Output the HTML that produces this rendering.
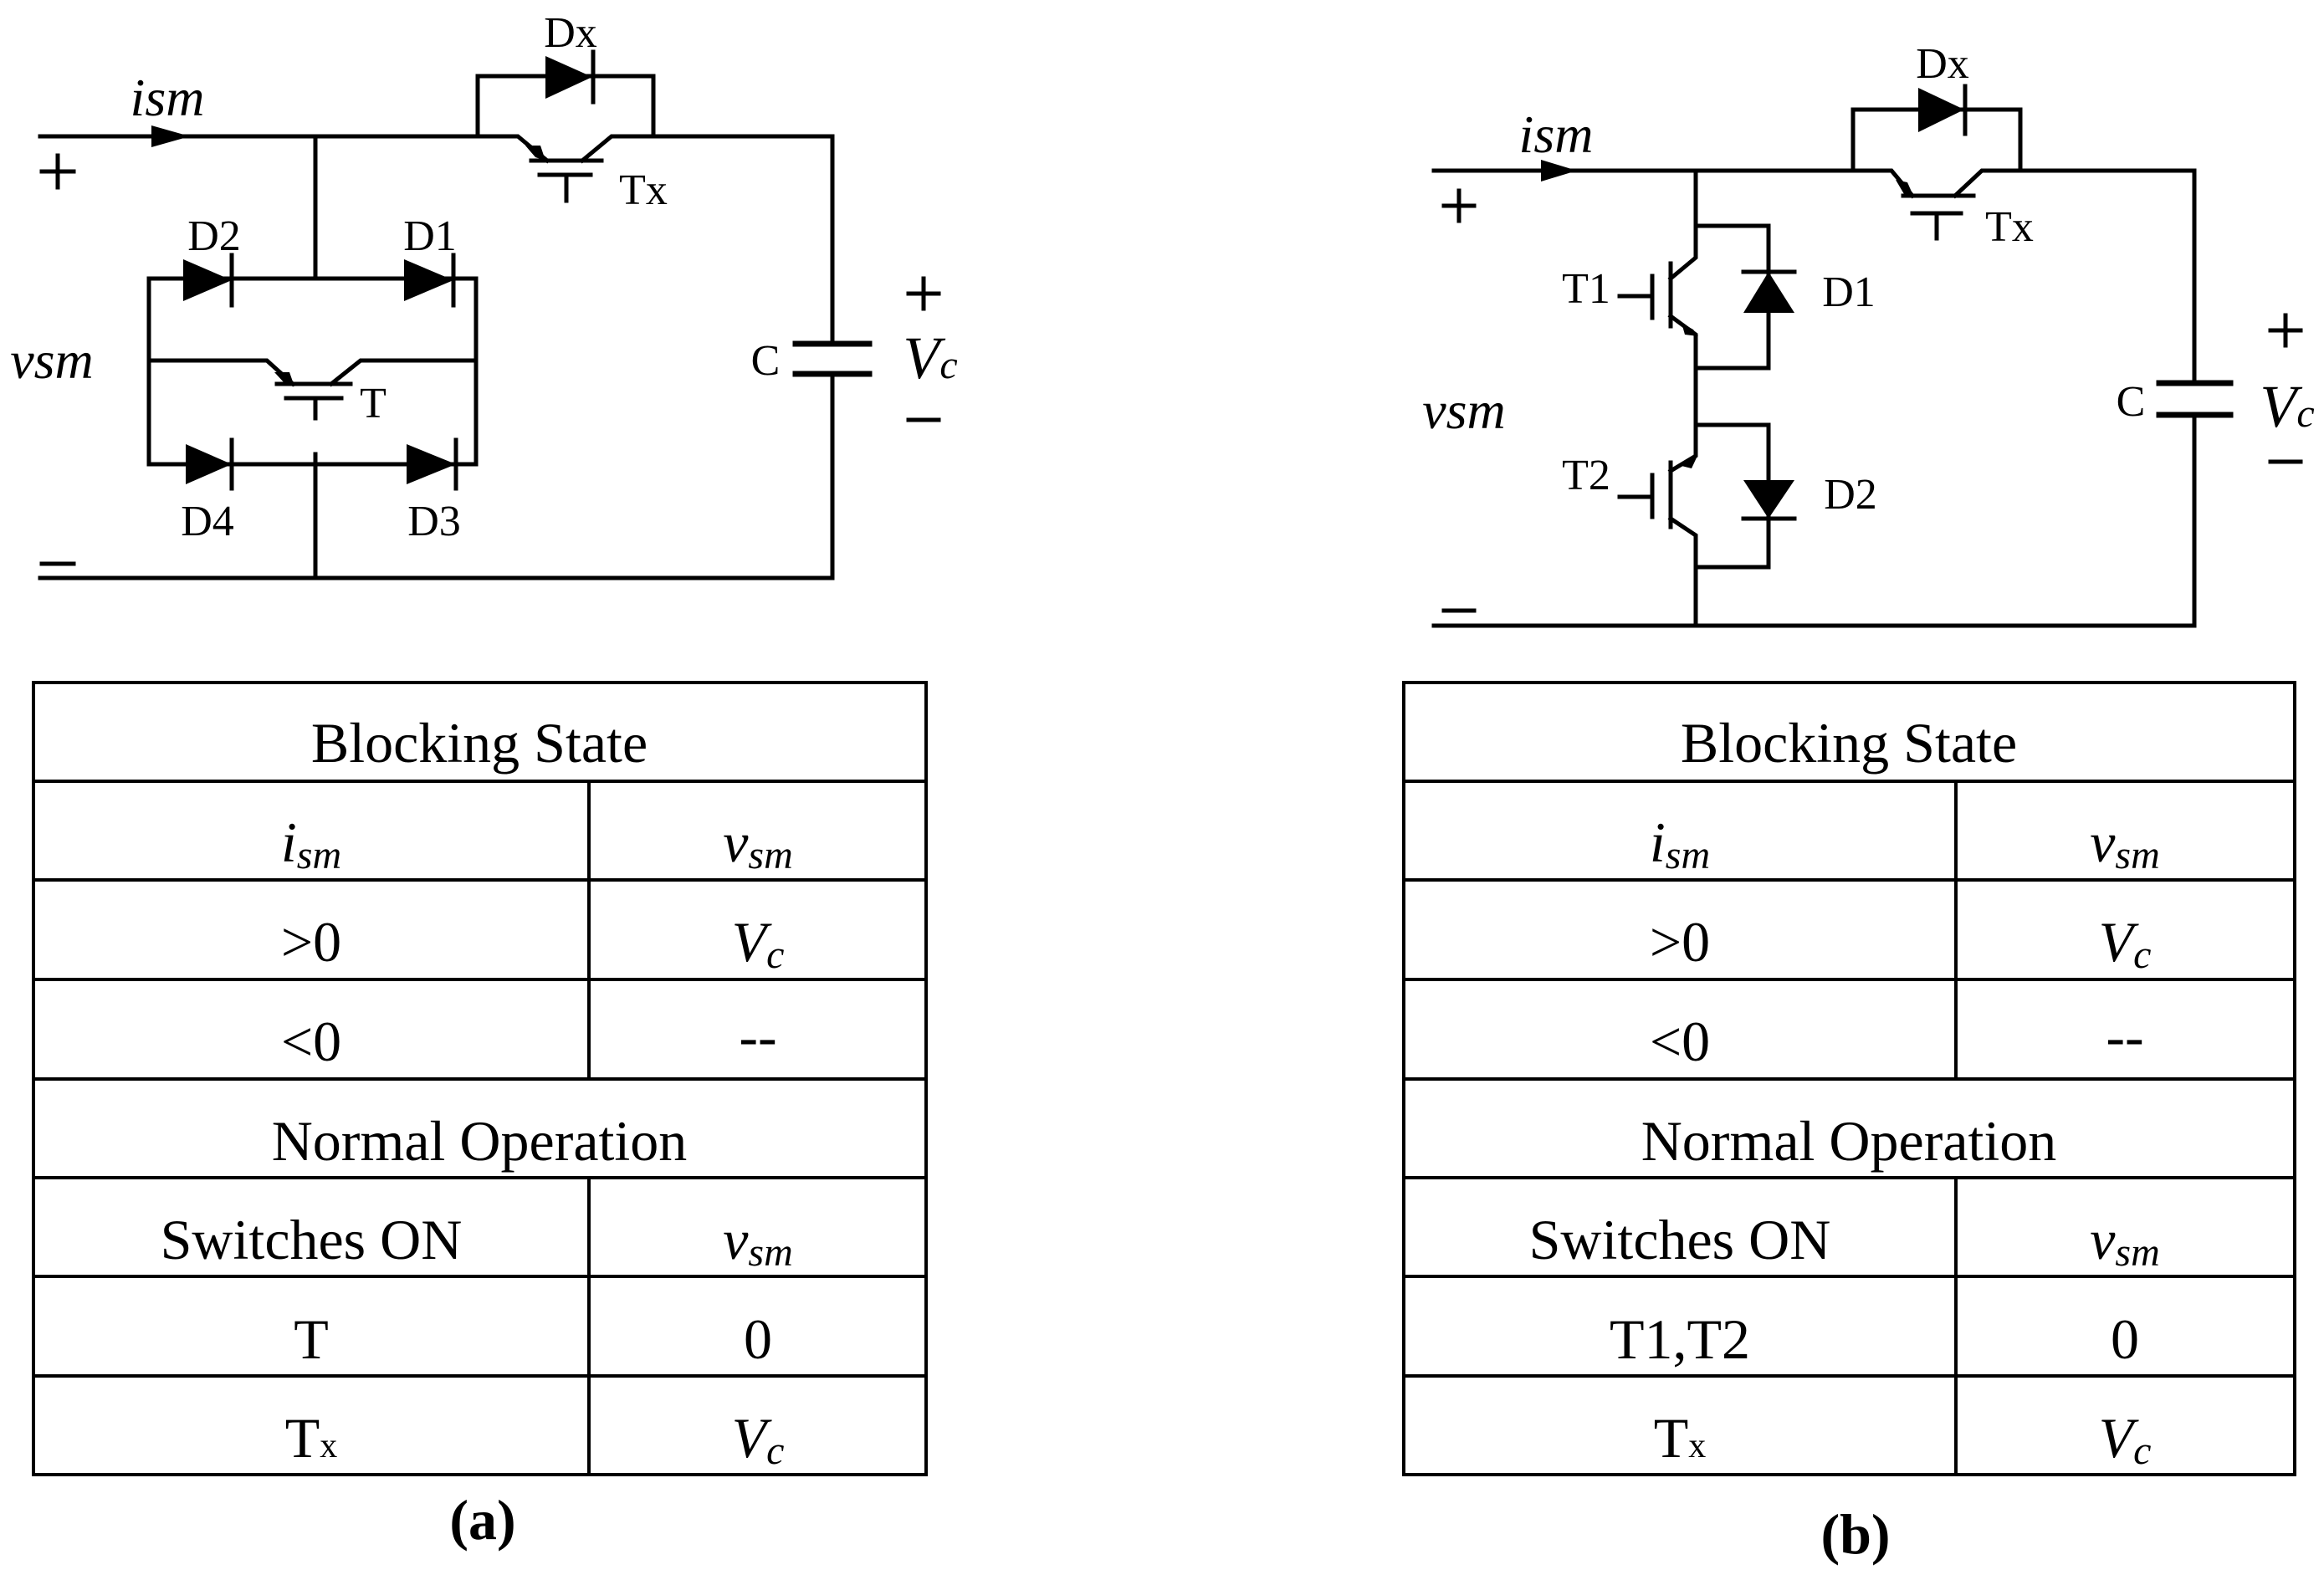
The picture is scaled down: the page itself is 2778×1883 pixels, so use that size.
<!DOCTYPE html>
<html><head><meta charset="utf-8"><style>
html,body{margin:0;padding:0;background:#fff;}
svg{display:block;}
.l{font-family:"Liberation Serif",serif;font-size:52px;fill:#000;}
.it{font-family:"Liberation Serif",serif;font-style:italic;fill:#000;}
.t{font-family:"Liberation Serif",serif;font-size:68px;fill:#000;}
</style></head><body>
<svg width="2778" height="1883" viewBox="0 0 2778 1883" xmlns="http://www.w3.org/2000/svg">
<g stroke="#000" stroke-width="5" fill="none" stroke-linecap="square">
<path d="M48 163 H571 M781 163 H995 V411 M995 447 V691 H48"/>
<path d="M377 163 V333"/>
<path d="M571 163 V91 H781 V163"/>
<path d="M571 163 H619 L654 192 M635 192 H719 M696 192 L731 163 H781"/>
<path d="M645 209 H706 M677 209 V240"/>
<path d="M951 411 H1039 M951 447 H1039" stroke-width="7"/>
<rect x="178" y="333" width="391" height="222"/>
<path d="M178 431 H319 L350 459 M331 459 H419 M396 459 L431 431 H569"/>
<path d="M342 476 H408 M377 476 V500"/>
<path d="M377 543 V691"/>
<path d="M709 62 V122 M277 305 V365 M542 305 V365 M277 526 V584 M545 526 V584"/>
<path d="M50 205 H88 M69 186 V224 M50 674 H88"/>
<path d="M1086 351 H1122 M1104 333 V369 M1086 502 H1122"/>
<path d="M1726 246 H1762 M1744 228 V264 M1726 730 H1762"/>
<path d="M2714 395 H2750 M2732 377 V413 M2714 552 H2750"/>
<path d="M1714 204 H2215 M2415 204 H2623 V458 M2623 496 V748 H1714"/>
<path d="M2215 204 V131 H2415 V204"/>
<path d="M2215 204 H2261 L2286 234 M2275 234 H2359 M2337 234 L2369 204 H2415"/>
<path d="M2286 255 H2344 M2315 255 V285"/>
<path d="M2581 458 H2666 M2581 496 H2666" stroke-width="7"/>
<path d="M2027 204 V308 L1997 333 M1997 315 V390 M1997 378 L2027 400 V545 L1997 563 M1997 553 V630 M1997 620 L2027 640 V748"/>
<path d="M2027 270 H2114 V440 H2027 M2027 508 H2114 V678 H2027"/>
<path d="M1975 330 V380 M1936 354 H1975 M1975 568 V618 M1936 594 H1975"/>
<path d="M2084 325 H2145 M2084 620 H2145 M2349 103 V160"/>
</g>
<g fill="#000">
<polygon points="181,150 227,163 181,176"/>
<polygon points="1842,191 1885,204 1842,217"/>
<polygon points="652,67 708,92 652,118"/>
<polygon points="219,310 277,335 219,360"/>
<polygon points="483,310 542,335 483,360"/>
<polygon points="222,531 277,555 222,579"/>
<polygon points="486,531 545,555 486,579"/>
<polygon points="2293,105 2348,131 2293,158"/>
<polygon points="2084,374 2145,374 2114,325"/>
<polygon points="2084,574 2145,574 2114,620"/>
<polygon points="628,174 646,174 652,192 640,188"/>
<polygon points="328,445 346,445 352,462 340,458"/>
<polygon points="2266,215 2280,218 2288,236 2276,232"/>
<polygon points="2010,386 2024,394 2030,402 2014,400"/>
<polygon points="2010,557 2025,545 2029,545 2022,560"/>
</g>
<text class="l" x="682" y="56" text-anchor="middle">Dx</text>
<text class="l" x="769" y="244" text-anchor="middle">Tx</text>
<text class="l" x="256" y="299" text-anchor="middle">D2</text>
<text class="l" x="514" y="299" text-anchor="middle">D1</text>
<text class="l" x="248" y="640" text-anchor="middle">D4</text>
<text class="l" x="519" y="640" text-anchor="middle">D3</text>
<text class="l" x="446" y="499" text-anchor="middle">T</text>
<text class="l" x="915" y="448" text-anchor="middle">C</text>
<text class="it" x="200" y="138" text-anchor="middle" font-size="64">ism</text>
<text class="it" x="62" y="452" text-anchor="middle" font-size="64">vsm</text>
<text class="it" x="1112" y="452" text-anchor="middle" font-size="72">V<tspan font-size="48">c</tspan></text>
<text class="l" x="2322" y="93" text-anchor="middle">Dx</text>
<text class="l" x="2402" y="288" text-anchor="middle">Tx</text>
<text class="l" x="1896" y="362" text-anchor="middle">T1</text>
<text class="l" x="2210" y="366" text-anchor="middle">D1</text>
<text class="l" x="1896" y="585" text-anchor="middle">T2</text>
<text class="l" x="2212" y="608" text-anchor="middle">D2</text>
<text class="l" x="2547" y="497" text-anchor="middle">C</text>
<text class="it" x="1860" y="182" text-anchor="middle" font-size="64">ism</text>
<text class="it" x="1750" y="512" text-anchor="middle" font-size="64">vsm</text>
<text class="it" x="2734" y="510" text-anchor="middle" font-size="72">V<tspan font-size="48">c</tspan></text>

<g stroke="#000" stroke-width="4" fill="none">
<rect x="40" y="816" width="1067" height="947"/>
<path d="M40 934 H1107 M40 1052 H1107 M40 1171 H1107 M40 1290 H1107 M40 1408 H1107 M40 1526 H1107 M40 1645 H1107"/>
<path d="M704 934 V1290 M704 1408 V1763"/>
<rect x="1678" y="816" width="1065" height="947"/>
<path d="M1678 934 H2743 M1678 1052 H2743 M1678 1171 H2743 M1678 1290 H2743 M1678 1408 H2743 M1678 1526 H2743 M1678 1645 H2743"/>
<path d="M2338 934 V1290 M2338 1408 V1763"/>
</g>
<g text-anchor="middle">
<text class="t" x="573" y="911">Blocking State</text>
<text class="it" x="372" y="1030" font-size="68">i<tspan font-size="48" dy="8">sm</tspan></text>
<text class="it" x="906" y="1030" font-size="68">v<tspan font-size="48" dy="8">sm</tspan></text>
<text class="t" x="372" y="1149">&gt;0</text>
<text class="it" x="906" y="1149" font-size="68">V<tspan font-size="48" dy="8">c</tspan></text>
<text class="t" x="372" y="1268">&lt;0</text>
<text class="t" x="906" y="1262">--</text>
<text class="t" x="573" y="1387">Normal Operation</text>
<text class="t" x="372" y="1505">Switches ON</text>
<text class="it" x="906" y="1505" font-size="68">v<tspan font-size="48" dy="8">sm</tspan></text>
<text class="t" x="372" y="1624">T</text>
<text class="t" x="906" y="1624">0</text>
<text class="t" x="372" y="1742">T<tspan font-size="42">x</tspan></text>
<text class="it" x="906" y="1742" font-size="68">V<tspan font-size="48" dy="8">c</tspan></text>

<text class="t" x="2210" y="911">Blocking State</text>
<text class="it" x="2008" y="1030" font-size="68">i<tspan font-size="48" dy="8">sm</tspan></text>
<text class="it" x="2540" y="1030" font-size="68">v<tspan font-size="48" dy="8">sm</tspan></text>
<text class="t" x="2008" y="1149">&gt;0</text>
<text class="it" x="2540" y="1149" font-size="68">V<tspan font-size="48" dy="8">c</tspan></text>
<text class="t" x="2008" y="1268">&lt;0</text>
<text class="t" x="2540" y="1262">--</text>
<text class="t" x="2210" y="1387">Normal Operation</text>
<text class="t" x="2008" y="1505">Switches ON</text>
<text class="it" x="2540" y="1505" font-size="68">v<tspan font-size="48" dy="8">sm</tspan></text>
<text class="t" x="2008" y="1624">T1,T2</text>
<text class="t" x="2540" y="1624">0</text>
<text class="t" x="2008" y="1742">T<tspan font-size="42">x</tspan></text>
<text class="it" x="2540" y="1742" font-size="68">V<tspan font-size="48" dy="8">c</tspan></text>

<text class="t" x="577" y="1840" font-weight="bold" font-size="72">(a)</text>
<text class="t" x="2218" y="1857" font-weight="bold" font-size="72">(b)</text>
</g>
</svg>
</body></html>
